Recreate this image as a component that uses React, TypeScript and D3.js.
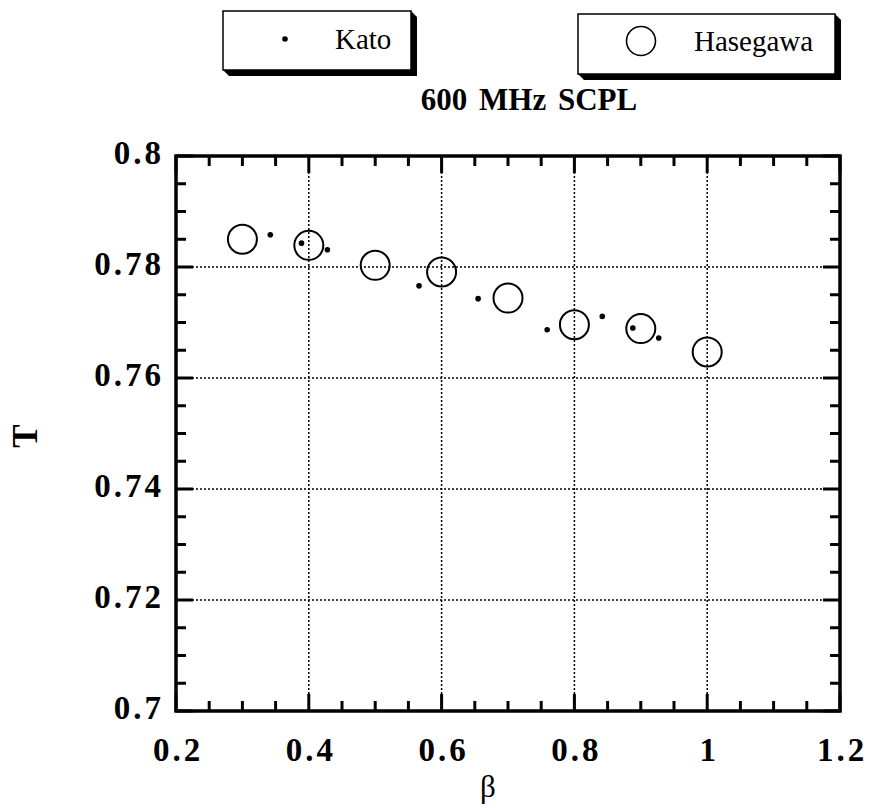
import React from 'react';
import * as d3 from 'd3';

// β axis ticks and labels
const betaTicks = [0.2, 0.4, 0.6, 0.8, 1.0, 1.2];
const betaTickLabels = ['0.2', '0.4', '0.6', '0.8', '1', '1.2'];
// T axis ticks and labels
const tTicks = [0.7, 0.72, 0.74, 0.76, 0.78, 0.8];
const tTickLabels = ['0.7', '0.72', '0.74', '0.76', '0.78', '0.8'];

// Kato series (small filled dots)
const katoBeta = [0.342, 0.389, 0.428, 0.566, 0.655, 0.759, 0.842, 0.888, 0.927];
const katoT = [0.7858, 0.7843, 0.7831, 0.7766, 0.7743, 0.7687, 0.7711, 0.769, 0.7672];

// Hasegawa series (open circles)
const hasegawaBeta = [0.3, 0.4, 0.5, 0.6, 0.7, 0.8, 0.9, 1.0];
const hasegawaT = [0.785, 0.7839, 0.7803, 0.7791, 0.7744, 0.7696, 0.7689, 0.7647];

const seriesNames = ['Kato', 'Hasegawa'];
const title = '600 MHz SCPL';

const W = 875;
const H = 808;
const plot = { left: 176, right: 840, top: 156, bottom: 711 };

const serif = "'Liberation Serif', 'Times New Roman', serif";

function LegendBox({ x1, y1, x2, y2, children }: { x1: number; y1: number; x2: number; y2: number; children?: React.ReactNode }) {
  const d = 6;
  const shadow = `M${x2},${y1} L${x2 + d},${y1 + d} L${x2 + d},${y2 + d} L${x1 + d},${y2 + d} L${x1},${y2} Z`;
  return (
    <g>
      <path d={shadow} fill="#000" />
      <rect x={x1} y={y1} width={x2 - x1} height={y2 - y1} fill="#fff" stroke="#000" strokeWidth={1.5} />
      {children}
    </g>
  );
}

export default function App() {
  const x = d3.scaleLinear().domain([0.2, 1.2]).range([plot.left, plot.right]);
  const y = d3.scaleLinear().domain([0.7, 0.8]).range([plot.bottom, plot.top]);

  const xMinor = x.ticks(20);
  const yMinor = y.ticks(20);
  const isMajorX = (v: number) => betaTicks.some((t) => Math.abs(t - v) < 1e-9);
  const isMajorY = (v: number) => tTicks.some((t) => Math.abs(t - v) < 1e-9);

  const minorLen = 10;
  const majorLen = 17;

  const kato = katoBeta.map((b, i) => [b, katoT[i]]);
  const hase = hasegawaBeta.map((b, i) => [b, hasegawaT[i]]);

  return (
    <svg
      width={W}
      height={H}
      style={{ position: 'absolute', left: 0, top: 0, background: '#fff' }}
      fontFamily={serif}
    >
      <rect x={0} y={0} width={W} height={H} fill="#fff" />

      {/* legend */}
      <LegendBox x1={223} y1={11} x2={411} y2={70}>
        <circle cx={285} cy={39} r={2.8} fill="#000" />
        <text x={335} y={49} fontSize={29} fill="#000">{seriesNames[0]}</text>
      </LegendBox>
      <LegendBox x1={578} y1={14} x2={835} y2={74}>
        <circle cx={641} cy={41} r={14.5} fill="none" stroke="#000" strokeWidth={1.6} />
        <text x={694} y={51} fontSize={29} fill="#000">{seriesNames[1]}</text>
      </LegendBox>

      {/* title */}
      <text x={529} y={110} fontSize={31} fontWeight="bold" textAnchor="middle" wordSpacing={4} fill="#000">
        {title}
      </text>

      {/* grid */}
      <g stroke="#000" strokeWidth={1.5} strokeDasharray="2,2">
        {betaTicks
          .filter((t) => t > 0.2 + 1e-9 && t < 1.2 - 1e-9)
          .map((t) => (
            <line key={'gx' + t} x1={x(t)} x2={x(t)} y1={plot.top} y2={plot.bottom} />
          ))}
        {tTicks
          .filter((t) => t > 0.7 + 1e-9 && t < 0.8 - 1e-9)
          .map((t) => (
            <line key={'gy' + t} x1={plot.left} x2={plot.right} y1={y(t)} y2={y(t)} />
          ))}
      </g>

      {/* ticks on all four sides */}
      <g stroke="#000" strokeWidth={3}>
        {xMinor.map((v) => {
          const len = isMajorX(v) ? majorLen : minorLen;
          return (
            <g key={'tx' + v}>
              <line x1={x(v)} x2={x(v)} y1={plot.bottom} y2={plot.bottom - len} />
              <line x1={x(v)} x2={x(v)} y1={plot.top} y2={plot.top + len} />
            </g>
          );
        })}
        {yMinor.map((v) => {
          const len = isMajorY(v) ? majorLen : minorLen;
          return (
            <g key={'ty' + v}>
              <line x1={plot.left} x2={plot.left + len} y1={y(v)} y2={y(v)} />
              <line x1={plot.right} x2={plot.right - len} y1={y(v)} y2={y(v)} />
            </g>
          );
        })}
      </g>

      {/* frame */}
      <rect
        x={plot.left}
        y={plot.top}
        width={plot.right - plot.left}
        height={plot.bottom - plot.top}
        fill="none"
        stroke="#000"
        strokeWidth={3.5}
      />

      {/* tick labels */}
      <g fontSize={33} fontWeight="bold" fill="#000" letterSpacing={3}>
        {betaTicks.map((t, i) => (
          <text key={'lx' + t} x={x(t) + 2} y={761} textAnchor="middle">
            {betaTickLabels[i]}
          </text>
        ))}
        {tTicks.map((t, i) => (
          <text key={'ly' + t} x={164} y={y(t) + 8} textAnchor="end">
            {tTickLabels[i]}
          </text>
        ))}
      </g>

      {/* axis titles */}
      <text x={488} y={797} fontSize={31} textAnchor="middle" fill="#000">β</text>
      <text
        transform={`translate(37,436) rotate(-90)`}
        fontSize={35}
        fontWeight="bold"
        textAnchor="middle"
        fill="#000"
      >
        T
      </text>

      {/* data */}
      <g fill="none" stroke="#000" strokeWidth={2}>
        {hase.map(([b, t], i) => (
          <circle key={'h' + i} cx={x(b)} cy={y(t)} r={14.5} />
        ))}
      </g>
      <g fill="#000">
        {kato.map(([b, t], i) => (
          <circle key={'k' + i} cx={x(b)} cy={y(t)} r={2.8} />
        ))}
      </g>
    </svg>
  );
}
